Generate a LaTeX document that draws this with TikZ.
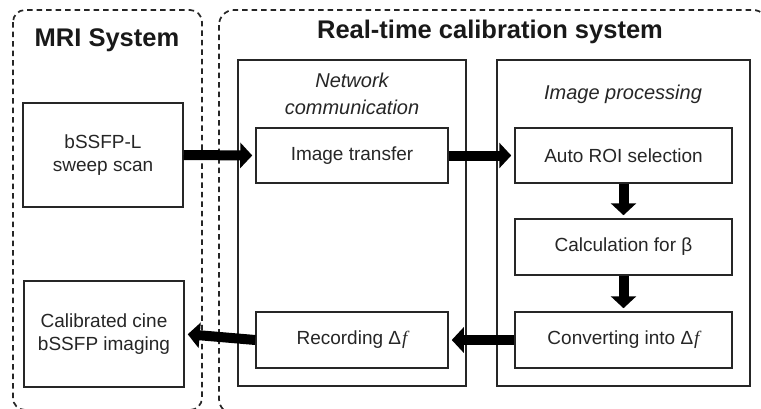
\documentclass[tikz,border=0pt]{standalone}
\usepackage{fontspec}
\setmainfont{Liberation Sans}
\newfontfamily\serifit{Liberation Serif}[ItalicFont=* Italic]
\usetikzlibrary{arrows.meta}
\newcommand{\df}{Δ\kern1pt{\serifit\itshape f}}
\tikzset{
  x=1pt, y=-1pt,
  grp/.style={draw=black!85, line width=1.7pt, dash pattern=on 5.5pt off 4pt},
  stage/.style={draw=black!85, line width=1.5pt},
  proc/.style={draw=black!85, line width=1.5pt, align=center, font=\fontsize{19}{23}\selectfont, text=black!85, inner sep=0pt},
  big/.style={font=\fontsize{25.5}{30}\selectfont\bfseries, text=black!90},
  ital/.style={font=\fontsize{20}{27}\selectfont\itshape, text=black!85, align=center},
  flow/.style={line width=10pt, draw=black, -{Triangle[length=12pt,width=25pt]}, shorten >=3pt},
}
\begin{document}
\begin{tikzpicture}
\useasboundingbox (0,0) rectangle (761,408);
\clip (0,0) rectangle (761,408);
\fill[white] (0,0) rectangle (761,408);
% dashed groups
\draw[grp, rounded corners=12pt] (13,10) rectangle (202,410);
\draw[grp, rounded corners=15pt] (219,10) rectangle (768,414);
\node[big] (t1) at (107,40) {MRI System};
\node[big] (t2) at (490,32) {Real-time calibration system};
% stage boxes
\draw[stage] (238,60) rectangle (466,386);
\draw[stage] (497,60) rectangle (750,386);
\node[ital] (nc) at (352,94) {Network\\communication};
\node[ital] (ip) at (623,94) {Image processing};
% process nodes
\node[proc, minimum width=160pt, minimum height=104pt] (scan) at (103,155) {bSSFP-L\\sweep scan};
\node[proc, minimum width=160pt, minimum height=106pt] (cine) at (104,334) {Calibrated cine\\bSSFP imaging};
\node[proc, minimum width=192pt, minimum height=55pt] (xfer) at (352,155.5) {Image transfer};
\node[proc, minimum width=217pt, minimum height=55pt] (roi) at (623.5,155.5) {Auto ROI selection};
\node[proc, minimum width=217pt, minimum height=56pt] (calc) at (623.5,247) {Calculation for β};
\node[proc, minimum width=217pt, minimum height=56pt] (conv) at (623.5,340) {Converting into \df};
\node[proc, minimum width=192pt, minimum height=56pt] (rec) at (352,340) {Recording \df};
% flow arrows
\draw[flow] (scan.east) -- (xfer.west);
\draw[flow] (xfer.east) -- (roi.west);
\draw[flow] (roi.south) -- (calc.north);
\draw[flow] (calc.south) -- (conv.north);
\draw[flow] (conv.west) -- (rec.east);
\draw[flow] (rec.west) -- (cine.east);
\end{tikzpicture}
\end{document}
